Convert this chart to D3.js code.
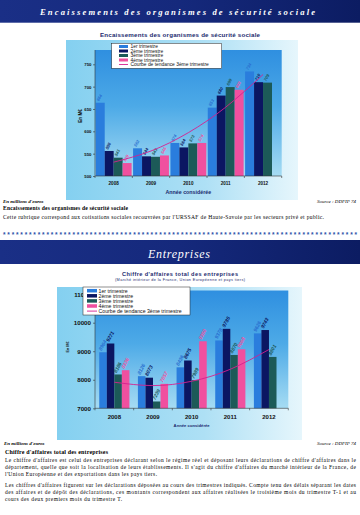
<!DOCTYPE html>
<html><head><meta charset="utf-8">
<script src="https://cdn.jsdelivr.net/npm/d3@7"></script>
<style>body{margin:0;background:#fff}svg{display:block}</style>
</head><body>
<script>
// ---------- DATA ----------
const years = ["2008","2009","2010","2011","2012"];
const quarterNames = ["1er trimestre","2ème trimestre","3ème trimestre","4ème trimestre"];
const trendName = "Courbe de tendance 3ème trimestre";

const secuQ1 = [664,562,574,653,734];
const secuQ2 = [556,544,564,680,710];
const secuQ3 = [541,543,573,699,709];
const secuQ4 = [529,546,574,693,null];
const secuTrend = [531,556,597,654,727];
const secuTicks = [500,550,600,650,700,750];

const caQ1 = [8964,8126,8436,9378,9626];
const caQ2 = [9271,8073,8675,9785,9743];
const caQ3 = [8186,7239,7989,8870,8801];
const caQ4 = [8336,7857,9350,9068,null];
const caTrend = [7914,7796,7947,8368,9060];
const caTicks = [7000,8000,9000,10000,11000];

const colors = ["#2a7ddd","#0b1662","#1c5a58","#f0509f"];
const trendColor = "#d6208e";
const SANS = "'Liberation Sans', Arial, sans-serif";
const SERIF = "'Liberation Serif', 'Times New Roman', serif";

const W = 360, H = 515;
const svg = d3.select("body").append("svg").attr("width", W).attr("height", H);
const defs = svg.append("defs");

function lg(id, x2, y2, stops){
  const g = defs.append("linearGradient").attr("id", id)
    .attr("x1",0).attr("y1",0).attr("x2",x2).attr("y2",y2);
  stops.forEach(s => g.append("stop").attr("offset", s[0]).attr("stop-color", s[1]));
}
lg("banner",1,0,[[0,"#1a2f86"],[0.5,"#15297c"],[1,"#0c1c62"]]);
lg("panel",1,0,[[0,"#84d0f0"],[0.6,"#aee0f5"],[1,"#e6f6fc"]]);
lg("plot",0,1,[[0,"#2f8fe0"],[0.45,"#4daae7"],[1,"#a6dcf3"]]);

function txt(g, x, y, s, o){
  const t = g.append("text").attr("x",x).attr("y",y).text(s)
    .attr("font-family", o.family || SANS)
    .attr("font-size", o.size)
    .attr("fill", o.fill || "#000");
  if (o.weight) t.attr("font-weight", o.weight);
  if (o.style) t.attr("font-style", o.style);
  if (o.anchor) t.attr("text-anchor", o.anchor);
  if (o.len) t.attr("textLength", o.len).attr("lengthAdjust","spacing");
  return t;
}

// ---------- Banners ----------
function banner(y, h, label, o){
  svg.append("rect").attr("x",0).attr("y",y).attr("width",W).attr("height",h).attr("fill","url(#banner)");
  txt(svg, o.x, o.by, label, {family:SERIF, size:o.size, fill:"#fff", weight:o.weight, style:"italic", len:o.len});
}
banner(0, 22.7, "Encaissements des organismes de sécurité sociale", {x:40, by:15, size:8.6, weight:"bold", len:275});
banner(240, 24, "Entreprises", {x:148, by:257.5, size:12, len:62});

// ---------- Chart builder ----------
function chart(cfg){
  const g = svg.append("g");
  g.append("rect").attr("x",cfg.panel[0]).attr("y",cfg.panel[1]).attr("width",cfg.panel[2]).attr("height",cfg.panel[3]).attr("fill","url(#panel)");
  // titles
  txt(g, cfg.titleX, cfg.titleY, cfg.title, {size:cfg.titleSize, weight:"bold", fill:"#1b2a6e", len:cfg.titleLen});
  if (cfg.subtitle) txt(g, cfg.subX, cfg.subY, cfg.subtitle, {size:3.8, fill:"#1b2a6e", len:cfg.subLen});

  const x = d3.scaleBand().domain(years).range([cfg.px0, cfg.px1]).paddingInner(cfg.pad).paddingOuter(cfg.pad/2);
  const xq = d3.scaleBand().domain([0,1,2,3]).range([0, x.bandwidth()]);
  const y = d3.scaleLinear().domain(cfg.domain).range(cfg.yrange);

  g.append("rect").attr("x",cfg.px0).attr("y",cfg.ptop).attr("width",cfg.px1-cfg.px0).attr("height",y(cfg.domain[0])-cfg.ptop).attr("fill","url(#plot)");

  const series = cfg.series;
  series.forEach((vals, qi) => {
    years.forEach((yr, i) => {
      const v = vals[i];
      if (v == null) return;
      const bx = x(yr) + xq(qi);
      g.append("rect").attr("x", bx).attr("y", y(v)).attr("width", xq.bandwidth()).attr("height", y(cfg.domain[0]) - y(v)).attr("fill", colors[qi]);
      const cx = bx + xq.bandwidth()/2 - cfg.labSize*0.3, cy = y(v) - 1.2;
      g.append("text").attr("transform", `translate(${cx},${cy}) rotate(-62)`)
        .attr("font-family", SANS).attr("font-size", cfg.labSize).attr("font-weight","bold").attr("font-style","italic")
        .attr("fill", qi===0 ? "#2a6fd0" : colors[qi]).text(v);
    });
  });

  // trend
  const clipId = "clip" + cfg.id;
  defs.append("clipPath").attr("id", clipId).append("rect").attr("x",cfg.px0).attr("y",cfg.ptop).attr("width",cfg.px1-cfg.px0).attr("height",y(cfg.domain[0])-cfg.ptop);
  const line = d3.line().x((d,i)=> x(years[i]) + x.bandwidth()/2).y(d=>y(d)).curve(d3.curveNatural);
  g.append("path").attr("d", line(cfg.trend)).attr("fill","none").attr("stroke",trendColor).attr("stroke-width",0.9).attr("clip-path",`url(#${clipId})`);

  // axes
  const ya = d3.axisLeft(y).tickValues(cfg.ticks).tickSize(2).tickFormat(d3.format("d"));
  const yg = g.append("g").attr("transform",`translate(${cfg.px0},0)`).call(ya);
  yg.select(".domain").attr("d", `M0,${y(cfg.domain[0])}V${cfg.ptop}`).attr("stroke","#333").attr("stroke-width",0.6);
  yg.selectAll(".tick line").attr("stroke","#333").attr("stroke-width",0.6).attr("x2",-2);
  yg.selectAll(".tick text").attr("font-family",SANS).attr("font-size",cfg.tickSize).attr("font-weight","bold").attr("fill","#111").attr("x",-cfg.tickPad).attr("dy","0.35em");

  const xg = g.append("g").attr("transform",`translate(0,${y(cfg.domain[0])})`);
  xg.append("line").attr("x1",cfg.px0).attr("x2",cfg.px1).attr("stroke","#333").attr("stroke-width",0.6);
  d3.range(years.length+1).forEach(i => {
    const xx = cfg.px0 + i*(cfg.px1-cfg.px0)/years.length;
    xg.append("line").attr("x1",xx).attr("x2",xx).attr("y1",0).attr("y2",2).attr("stroke","#333").attr("stroke-width",0.6);
  });
  years.forEach(yr => txt(xg, x(yr)+x.bandwidth()/2, cfg.catDy, yr, {size:cfg.catSize, weight:"bold", anchor:"middle", fill:"#111"}));
  txt(g, (cfg.px0+cfg.px1)/2, cfg.axTitleY, "Année considérée", {size:cfg.axTitleSize, weight:"bold", anchor:"middle", fill:"#1b2a6e"});
  g.append("text").attr("transform",`translate(${cfg.unitX},${cfg.unitY}) rotate(-90)`).attr("text-anchor","middle")
    .attr("font-family",SANS).attr("font-size",cfg.unitSize).attr("font-weight","bold").attr("fill","#111").text("En M€");

  // legend
  const L = cfg.legend;
  const lgG = g.append("g");
  lgG.append("rect").attr("x",L.x).attr("y",L.y).attr("width",L.w).attr("height",L.h).attr("fill","#fff").attr("stroke","#222").attr("stroke-width",0.5);
  const items = quarterNames.concat([trendName]);
  items.forEach((name, i) => {
    const cy = L.y + L.first + i*L.step;
    if (i < 4) lgG.append("rect").attr("x",L.sx).attr("y",cy - L.sh/2).attr("width",L.sw).attr("height",L.sh).attr("fill",colors[i]);
    else lgG.append("line").attr("x1",L.sx).attr("x2",L.sx+L.sw).attr("y1",cy).attr("y2",cy).attr("stroke",trendColor).attr("stroke-width",0.9);
    txt(lgG, L.tx, cy + L.size*0.36, name, {size:L.size, fill:"#111"});
  });
}

chart({
  id:1, panel:[66,40,232,160],
  title:"Encaissements des organismes de sécurité sociale", titleX:100, titleY:36.5, titleSize:6.2, titleLen:160,
  px0:95, px1:281.7, ptop:50, pad:0.04,
  domain:[500,750], yrange:[176,64.3], ticks:secuTicks,
  series:[secuQ1,secuQ2,secuQ3,secuQ4], trend:secuTrend,
  labSize:4.2, tickSize:4.3, tickPad:3.5, catSize:4.6, catDy:8.5,
  axTitleY:194, axTitleSize:5.3, unitX:81.5, unitY:116, unitSize:4.6,
  legend:{x:111.7,y:43.3,w:110,h:25,first:3.2,step:4.5,sx:119,sw:9,sh:3,tx:130.5,size:4.9}
});

chart({
  id:2, panel:[57,287,245,153],
  title:"Chiffre d'affaires total des entreprises", titleX:122, titleY:276, titleSize:5.6, titleLen:116,
  subtitle:"(Marché intérieur de la France, Union Européenne et pays tiers)", subX:115, subY:281, subLen:130,
  px0:95, px1:288.3, ptop:290.5, pad:0.22,
  domain:[7000,10000], yrange:[408.3,322.7], ticks:caTicks,
  series:[caQ1,caQ2,caQ3,caQ4], trend:caTrend,
  labSize:5, tickSize:6.2, tickPad:4, catSize:6, catDy:10.5,
  axTitleY:427, axTitleSize:4.2, unitX:68.5, unitY:347, unitSize:3.8,
  legend:{x:83,y:287,w:107,h:28,first:3.7,step:5.1,sx:87,sw:10,sh:3.5,tx:98.5,size:5.2}
});

// ---------- Texts under chart 1 ----------
txt(svg, 3, 203, "En millions d'euros", {family:SERIF, size:5, weight:"bold", style:"italic"});
txt(svg, 356, 203, "Source : DDFIP 74", {family:SERIF, size:5, style:"italic", anchor:"end"});
txt(svg, 3, 210.3, "Encaissements des organismes de sécurité sociale", {family:SERIF, size:5.6, weight:"bold", len:125});
txt(svg, 3, 218.5, "Cette rubrique correspond aux cotisations sociales recouvrées par l'URSSAF de Haute-Savoie par les secteurs privé et public.", {family:SERIF, size:5.6, len:321});

// separator
txt(svg, 3, 237, "*".repeat(82), {family:SANS, size:6.5, weight:"bold", fill:"#2a4fa8", len:354});

// ---------- Texts under chart 2 ----------
txt(svg, 4, 445, "En millions d'euros", {family:SERIF, size:5, weight:"bold", style:"italic"});
txt(svg, 356, 445, "Source : DDFIP 74", {family:SERIF, size:5, style:"italic", anchor:"end"});
txt(svg, 5, 453.8, "Chiffre d'affaires total des entreprises", {family:SERIF, size:6, weight:"bold", len:103});
const para = [
  ["Le chiffre d'affaires est celui des entreprises déclarant selon le régime réel et déposant leurs déclarations de chiffre d'affaires dans le", 461.8, 351],
  ["département, quelle que soit la localisation de leurs établissements. Il s'agit du chiffre d'affaires du marché intérieur de la France, de", 468.8, 351],
  ["l'Union Européenne et des exportations dans les pays tiers.", 475.5, 152],
  ["Les chiffres d'affaires figurent sur les déclarations déposées au cours des trimestres indiqués. Compte tenu des délais séparant les dates", 486.8, 351],
  ["des affaires et de dépôt des déclarations, ces montants correspondent aux affaires réalisées le troisième mois du trimestre T-1 et au", 493.8, 351],
  ["cours des deux premiers mois du trimestre T.", 500.5, 117]
];
para.forEach(p => txt(svg, 5, p[1], p[0], {family:SERIF, size:5.5, len:p[2]}));
</script>
</body></html>
